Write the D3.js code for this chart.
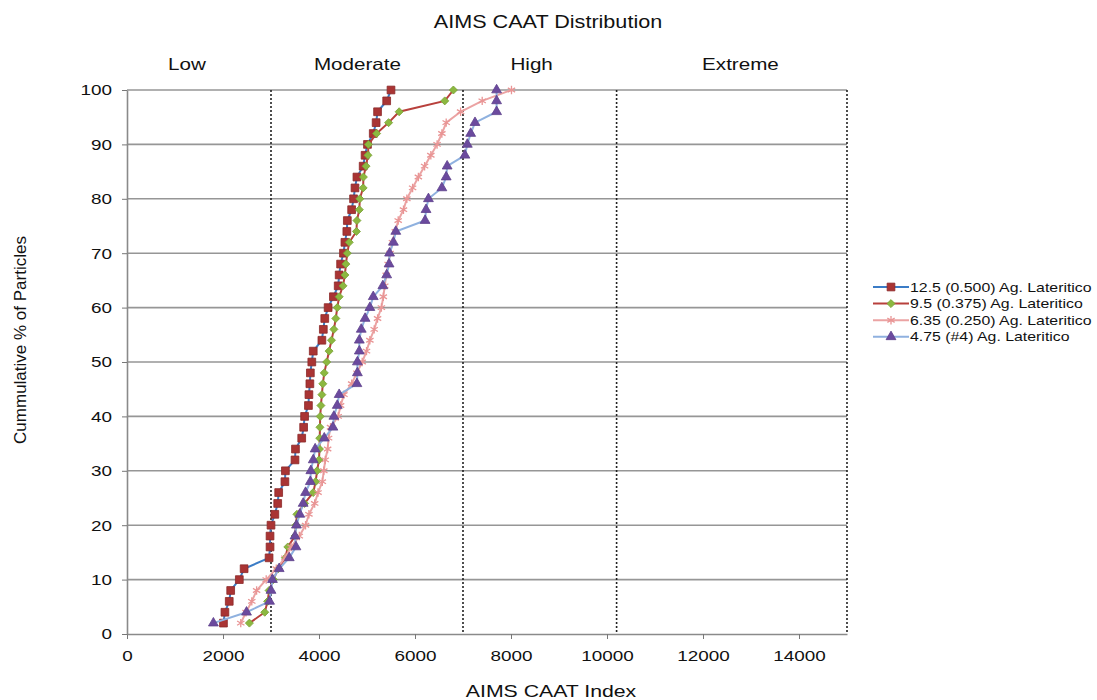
<!DOCTYPE html>
<html>
<head>
<meta charset="utf-8">
<script src="https://cdn.jsdelivr.net/npm/d3@7"></script>
<style>
  body { margin: 0; background: #fff; }
  text { font-family: "Liberation Sans", Arial, sans-serif; fill: #111; }
</style>
</head>
<body>
<div id="chart"></div>
<script>
// Cumulative % levels (2% steps)
var levels = [2,4,6,8,10,12,14,16,18,20,22,24,26,28,30,32,34,36,38,40,42,44,46,48,50,
              52,54,56,58,60,62,64,66,68,70,72,74,76,78,80,82,84,86,88,90,92,94,96,98,100];

// AIMS CAAT index per level
var s125 = [2010,2040,2130,2160,2340,2440,2960,2980,2980,3000,3080,3140,3160,3290,3300,3500,3510,3640,3680,3700,
            3780,3790,3810,3820,3850,3880,4060,4090,4120,4190,4300,4400,4420,4450,4510,4540,4580,4590,4680,4720,
            4750,4790,4920,4960,5010,5130,5190,5220,5410,5500];
var s95 = [2550,2870,2930,2960,3050,3150,3300,3350,3500,3520,3540,3700,3880,3930,3960,4000,4010,4015,4020,4025,
           4040,4060,4080,4110,4160,4210,4260,4310,4350,4380,4420,4500,4540,4560,4590,4630,4780,4790,4840,4850,
           4920,4925,4980,5020,5030,5200,5450,5670,6620,6800];
var s635 = [2370,2480,2600,2700,2900,3110,3290,3420,3590,3720,3790,3910,3980,4070,4100,4130,4180,4200,4240,4400,
            4450,4520,4680,4790,4900,4990,5060,5150,5220,5300,5340,5370,5400,5440,5480,5530,5590,5650,5760,5830,
            5950,6070,6200,6330,6460,6560,6650,6950,7400,8010];
var s475 = [1800,2490,2970,3000,3030,3170,3380,3520,3500,3530,3600,3670,3720,3820,3830,3880,3920,4110,4290,4310,
            4380,4420,4790,4800,4800,4840,4840,4880,4960,5060,5130,5330,5410,5460,5470,5550,5600,6210,6230,6280,
            6560,6650,6670,7040,7090,7160,7250,7700,7700,7700];

var seriesNames = ["12.5 (0.500) Ag. Lateritico", "9.5 (0.375) Ag. Lateritico",
                   "6.35 (0.250) Ag. Lateritico", "4.75 (#4) Ag. Lateritico"];
var seriesValues = [s125, s95, s635, s475];

// Severity zones and their boundaries
var zones = ["Low", "Moderate", "High", "Extreme"];
var zoneCenters = [1250, 4800, 8430, 12780];
var zoneBounds = [3000, 7000, 10200, 15000];

var xTicks = [0, 2000, 4000, 6000, 8000, 10000, 12000, 14000];
var yTicks = [0, 10, 20, 30, 40, 50, 60, 70, 80, 90, 100];

var styles = [
  {line: "#3b7cc6", fill: "#a93434", stroke: "#8c2a2a", sym: d3.symbolSquare, size: 60, rot: 0},
  {line: "#b8403c", fill: "#8cb840", stroke: "#7aa236", sym: d3.symbolSquare, size: 32, rot: 45},
  {line: "#eba3a3", fill: "none", stroke: "#e99595", sym: d3.symbolAsterisk, size: 50, rot: 0},
  {line: "#8fb1df", fill: "#6b4a9e", stroke: "#5e418c", sym: d3.symbolTriangle, size: 42, rot: 0}
];

// the reference text is a little wider than the fonts here
var stretch = 1.22;

var width = 1097, height = 700;
var x = d3.scaleLinear().domain([0, 15000]).range([127, 847]);
var y = d3.scaleLinear().domain([0, 100]).range([634, 90]);

var svg = d3.select("#chart").append("svg")
    .attr("width", width)
    .attr("height", height);

function label(px, py, size, sx, str) {
  return svg.append("text")
      .attr("transform", "translate(" + px + "," + py + ") scale(" + sx + ",1)")
      .style("text-anchor", "middle")
      .style("font-size", size + "px")
      .text(str);
}

// horizontal gridlines
svg.append("g")
    .selectAll("line")
    .data(yTicks.slice(1))
    .enter().append("line")
    .attr("x1", x(0)).attr("x2", x(15000))
    .attr("y1", function(d) { return y(d); })
    .attr("y2", function(d) { return y(d); })
    .style("stroke", "#969696")
    .style("stroke-width", 1.6);

// zone boundary lines (dotted)
svg.append("g")
    .selectAll("line")
    .data(zoneBounds)
    .enter().append("line")
    .attr("x1", function(d) { return x(d); })
    .attr("x2", function(d) { return x(d); })
    .attr("y1", y(100)).attr("y2", y(0))
    .style("stroke", "#222")
    .style("stroke-width", 1.6)
    .style("stroke-dasharray", "2,2");

// axes
var xAxis = svg.append("g")
    .attr("transform", "translate(0," + y(0) + ")")
    .call(d3.axisBottom(x).tickValues(xTicks).tickFormat(d3.format("d"))
          .tickSize(5).tickPadding(11).tickSizeOuter(0));
var yAxis = svg.append("g")
    .attr("transform", "translate(" + x(0) + ",0)")
    .call(d3.axisLeft(y).tickValues(yTicks).tickFormat(d3.format("d"))
          .tickSize(5).tickPadding(8).tickSizeOuter(0));
[xAxis, yAxis].forEach(function(a) {
  a.select(".domain").style("stroke", "#8a8a8a").style("stroke-width", 1.6);
  a.selectAll(".tick line").style("stroke", "#777");
  a.selectAll(".tick text")
      .style("font-size", "15.5px")
      .style("font-family", "Liberation Sans, Arial, sans-serif")
      .attr("fill", "#111")
      .attr("transform", "scale(" + stretch + ",1)");
});
yAxis.selectAll(".tick text").attr("x", -15 / stretch);

// series
var line = d3.line()
    .x(function(d) { return x(d.v); })
    .y(function(d) { return y(d.p); });

seriesValues.forEach(function(vals, i) {
  var st = styles[i];
  var pts = vals.map(function(v, j) { return {v: v, p: levels[j]}; });
  var g = svg.append("g");
  g.append("path")
      .datum(pts)
      .attr("d", line)
      .style("fill", "none")
      .style("stroke", st.line)
      .style("stroke-width", 2);
  g.selectAll("path.m")
      .data(pts)
      .enter().append("path")
      .attr("class", "m")
      .attr("d", d3.symbol().type(st.sym).size(st.size))
      .attr("transform", function(d) {
        return "translate(" + x(d.v) + "," + y(d.p) + ") rotate(" + st.rot + ")";
      })
      .style("fill", st.fill)
      .style("stroke", st.stroke)
      .style("stroke-width", st.fill === "none" ? 1.3 : 0.8);
});

// zone labels
zones.forEach(function(z, i) {
  label(x(zoneCenters[i]), 70, 16.5, 1.25, z);
});

// title and axis titles
label(548, 28, 18, 1.2, "AIMS CAAT Distribution");
label(551, 697, 17, 1.25, "AIMS CAAT Index");

svg.append("text")
    .attr("transform", "translate(26,340) rotate(-90)")
    .style("text-anchor", "middle")
    .style("font-size", "17px")
    .text("Cummulative % of Particles");

// legend
var legend = svg.append("g")
    .attr("transform", "translate(873,287)")
    .selectAll("g")
    .data(seriesNames)
    .enter().append("g")
    .attr("transform", function(d, i) { return "translate(0," + (i * 16.6) + ")"; });

legend.append("line")
    .attr("x1", 0).attr("x2", 36)
    .style("stroke", function(d, i) { return styles[i].line; })
    .style("stroke-width", 2);

legend.append("path")
    .attr("d", function(d, i) { return d3.symbol().type(styles[i].sym).size(styles[i].size)(); })
    .attr("transform", function(d, i) { return "translate(18,0) rotate(" + styles[i].rot + ")"; })
    .style("fill", function(d, i) { return styles[i].fill; })
    .style("stroke", function(d, i) { return styles[i].stroke; })
    .style("stroke-width", function(d, i) { return styles[i].fill === "none" ? 1.3 : 0.8; });

legend.append("text")
    .attr("transform", "translate(37,0) scale(" + stretch + ",1)")
    .attr("dy", ".35em")
    .style("font-size", "13px")
    .text(function(d) { return d; });
</script>
</body>
</html>
